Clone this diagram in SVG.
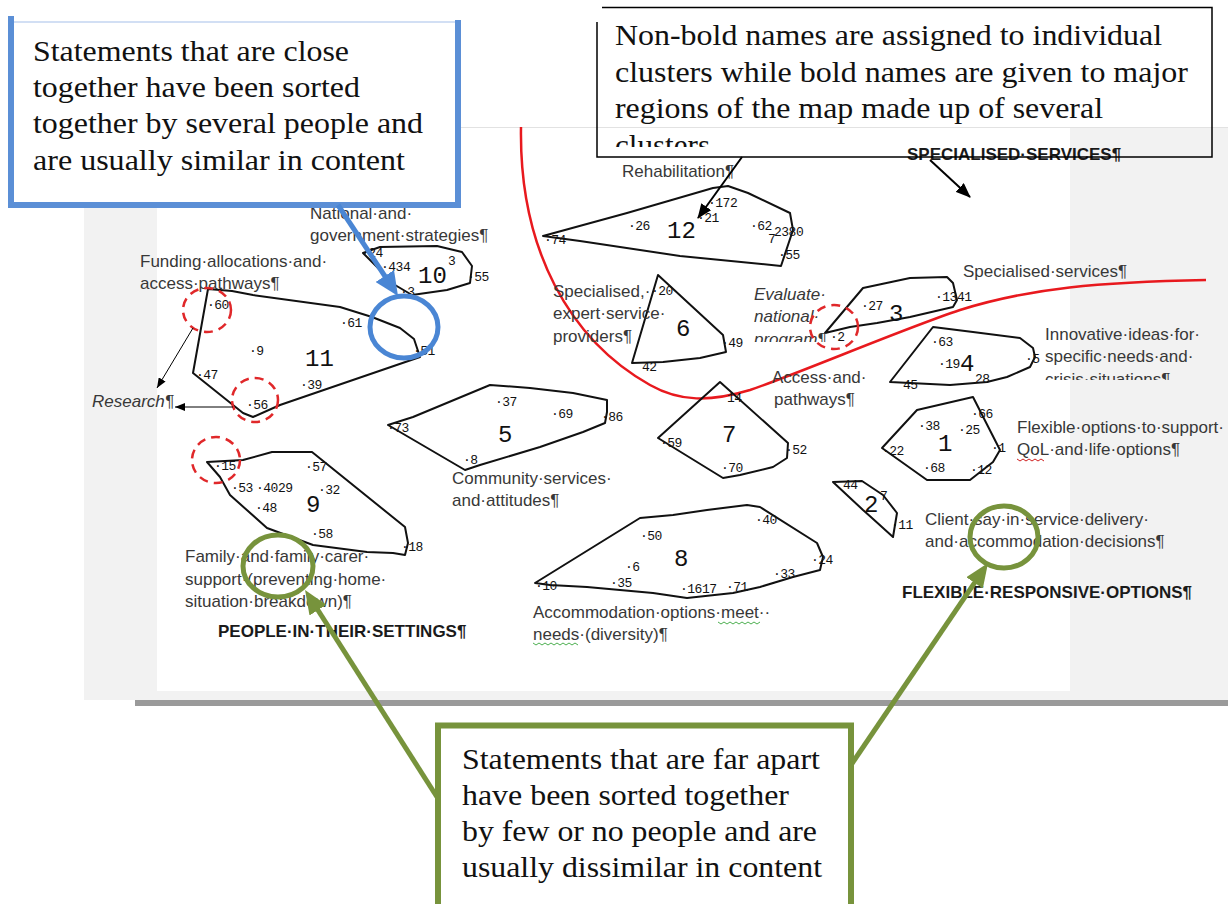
<svg xmlns="http://www.w3.org/2000/svg" width="1228" height="904" viewBox="0 0 1228 904">
<style>
.cl{fill:none;stroke:#111;stroke-width:2;stroke-linejoin:round}
.pt{font-family:"Liberation Mono","DejaVu Sans Mono",monospace;font-size:13px;fill:#111;letter-spacing:-0.5px}
.cn{font-family:"Liberation Mono","DejaVu Sans Mono",monospace;font-size:24px;fill:#111}
.lb{font-family:"Liberation Sans",Arial,sans-serif;font-size:17px;fill:#383838}
.it{font-style:italic}
.bd{font-family:"Liberation Sans",Arial,sans-serif;font-size:17px;font-weight:bold;fill:#1a1a1a}
.ser{font-family:"Liberation Serif","Times New Roman",serif;font-size:30px;fill:#111}
.rc{fill:none;stroke:#e0282a;stroke-width:2.5;stroke-dasharray:9 6}
.gc{fill:none;stroke:#77933c;stroke-width:5}
.ga{stroke:#77933c;stroke-width:5;fill:none}
.ka{stroke:#000;stroke-width:2;fill:none}
.ks{stroke:#000;stroke-width:1;fill:none}
</style>
<defs>
<marker id="ahK" markerUnits="userSpaceOnUse" markerWidth="15" markerHeight="12" refX="14" refY="6" orient="auto"><path d="M0,0 L15,6 L0,12 z" fill="#000"/></marker>
<marker id="ahKs" markerUnits="userSpaceOnUse" markerWidth="10" markerHeight="8" refX="10" refY="4" orient="auto"><path d="M0,0 L10,4 L0,8 z" fill="#000"/></marker>
<marker id="ahB" markerUnits="userSpaceOnUse" markerWidth="24" markerHeight="22" refX="12" refY="11" orient="auto"><path d="M0,0 L24,11 L0,22 z" fill="#4a86d4"/></marker>
<marker id="ahG" markerUnits="userSpaceOnUse" markerWidth="24" markerHeight="20" refX="12" refY="10" orient="auto"><path d="M0,0 L24,10 L0,20 z" fill="#77933c"/></marker>
<clipPath id="clipBlack"><rect x="597" y="7" width="615" height="140"/></clipPath>
<clipPath id="clipEval"><rect x="740" y="280" width="100" height="62"/></clipPath>
<clipPath id="clipInno"><rect x="1035" y="320" width="190" height="60"/></clipPath>
</defs>

<!-- page / map background -->
<g id="background">
<rect x="0" y="0" width="1228" height="904" fill="#fff"/>
<rect x="84" y="127" width="1144" height="573" fill="#f2f2f2"/>
<rect x="157" y="127" width="913" height="564" fill="#fff"/>
<line x1="84" y1="127.5" x2="1228" y2="127.5" stroke="#e2e2e2" stroke-width="1"/>
<rect x="135" y="700" width="1093" height="6" fill="#9a9a9a"/>
</g>

<!-- red region boundary -->
<g id="region-boundary">
<path d="M521,127 C519,250 570,340 650,385 C680,402 710,402 750,390 C800,373 900,330 960,310 C1030,288 1100,282 1206,280" fill="none" stroke="#e8191e" stroke-width="2.5"/>
</g>

<!-- clusters -->
<g id="cluster-11">
<polygon class="cl" points="208,289 232,291 253,295 340,307 372,317 400,328 414,339 420,357 280,405 253,417 243,413 193,373"/>
<text class="pt" x="207" y="309">·60</text>
<text class="pt" x="340" y="327">·61</text>
<text class="pt" x="249" y="355">·9</text>
<text class="cn" x="305" y="366">11</text>
<text class="pt" x="413" y="355">·51</text>
<text class="pt" x="196" y="379">·47</text>
<text class="pt" x="300" y="389">·39</text>
<text class="pt" x="246" y="409">·56</text>
</g>
<g id="cluster-10">
<polygon class="cl" points="363,253 380,247 437,246 462,252 472,266 470,283 447,290 412,295 395,285"/>
<text class="pt" x="361" y="257">·24</text>
<text class="pt" x="381" y="271">·434</text>
<text class="cn" x="418" y="283">10</text>
<text class="pt" x="448" y="265">3</text>
<text class="pt" x="400" y="296">·3</text>
<text class="pt" x="467" y="281">·55</text>
</g>
<g id="cluster-12">
<polygon class="cl" points="543,236 627,213 713,188 728,186 748,193 790,213 793,230 781,266 680,256 580,241"/>
<text class="pt" x="544" y="244">·74</text>
<text class="pt" x="628" y="230">·26</text>
<text class="cn" x="667" y="238">12</text>
<text class="pt" x="697" y="222">·21</text>
<text class="pt" x="708" y="207">·172</text>
<text class="pt" x="750" y="230">·62</text>
<text class="pt" x="768" y="243">7</text>
<text class="pt" x="774" y="236">2380</text>
<text class="pt" x="778" y="259">·55</text>
</g>
<g id="cluster-6">
<polygon class="cl" points="658,275 723,335 726,352 700,358 663,362 632,363"/>
<text class="pt" x="651" y="295">·20</text>
<text class="cn" x="676" y="336">6</text>
<text class="pt" x="721" y="347">·49</text>
<text class="pt" x="642" y="371">42</text>
</g>
<g id="cluster-3">
<polygon class="cl" points="825,333 863,288 910,278 947,277 953,283 957,300 953,307 910,317 877,323 850,327"/>
<text class="pt" x="861" y="310">·27</text>
<text class="cn" x="889" y="321">3</text>
<text class="pt" x="935" y="301">·1341</text>
<text class="pt" x="830" y="341">·2</text>
</g>
<g id="cluster-4">
<polygon class="cl" points="890,382 933,327 973,332 1020,338 1033,348 1035,357 1030,367 1007,377 987,382 950,385"/>
<text class="pt" x="931" y="346">·63</text>
<text class="pt" x="938" y="368">·19</text>
<text class="cn" x="960" y="371">4</text>
<text class="pt" x="975" y="383">28</text>
<text class="pt" x="1025" y="363">·5</text>
<text class="pt" x="903" y="389">45</text>
</g>
<g id="cluster-1">
<polygon class="cl" points="882,448 917,410 973,397 1000,450 993,462 970,480 927,480"/>
<text class="pt" x="971" y="418">·66</text>
<text class="pt" x="918" y="430">·38</text>
<text class="cn" x="938" y="451">1</text>
<text class="pt" x="958" y="434">·25</text>
<text class="pt" x="991" y="452">·1</text>
<text class="pt" x="882" y="455">·22</text>
<text class="pt" x="923" y="472">·68</text>
<text class="pt" x="970" y="474">·12</text>
</g>
<g id="cluster-2">
<polygon class="cl" points="833,482 862,481 883,495 897,513 893,537 872,518 863,510"/>
<text class="pt" x="843" y="489">44</text>
<text class="cn" x="864" y="512">2</text>
<text class="pt" x="880" y="500">7</text>
<text class="pt" x="891" y="529">·11</text>
</g>
<g id="cluster-7">
<polygon class="cl" points="720,382 788,443 787,458 773,467 740,475 723,478 658,438"/>
<text class="pt" x="727" y="402">14</text>
<text class="cn" x="722" y="442">7</text>
<text class="pt" x="660" y="447">·59</text>
<text class="pt" x="785" y="454">·52</text>
<text class="pt" x="721" y="472">·70</text>
</g>
<g id="cluster-5">
<polygon class="cl" points="388,425 413,417 490,385 530,388 573,393 607,400 607,412 605,423 583,432 540,447 480,465 465,470"/>
<text class="pt" x="387" y="432">·73</text>
<text class="pt" x="495" y="406">·37</text>
<text class="pt" x="551" y="418">·69</text>
<text class="pt" x="601" y="421">·86</text>
<text class="cn" x="498" y="442">5</text>
<text class="pt" x="463" y="464">·8</text>
</g>
<g id="cluster-8">
<polygon class="cl" points="535,583 640,518 673,515 707,510 747,505 760,507 817,543 823,557 820,570 793,577 760,587 733,593 687,598 653,593 587,587 550,585"/>
<text class="pt" x="640" y="540">·50</text>
<text class="cn" x="674" y="566">8</text>
<text class="pt" x="625" y="571">·6</text>
<text class="pt" x="610" y="587">·35</text>
<text class="pt" x="680" y="593">·1617</text>
<text class="pt" x="726" y="591">·71</text>
<text class="pt" x="773" y="578">·33</text>
<text class="pt" x="811" y="564">·24</text>
<text class="pt" x="755" y="524">·40</text>
<text class="pt" x="535" y="590">·10</text>
</g>
<g id="cluster-9">
<polygon class="cl" points="207,462 243,460 272,452 312,452 405,527 408,543 405,555 393,553 367,552 313,545 267,528 230,495 220,477"/>
<text class="pt" x="214" y="470">·15</text>
<text class="pt" x="231" y="492">·53</text>
<text class="pt" x="256" y="492">·4029</text>
<text class="pt" x="255" y="512">·48</text>
<text class="cn" x="306" y="512">9</text>
<text class="pt" x="305" y="471">·57</text>
<text class="pt" x="318" y="494">·32</text>
<text class="pt" x="311" y="538">·58</text>
<text class="pt" x="401" y="551">·18</text>
</g>

<!-- cluster names and region names -->
<g id="labels">
<text class="lb" x="622" y="177">Rehabilitation¶</text>
<text class="lb" x="310" y="219">National·and·</text>
<text class="lb" x="310" y="241">government·strategies¶</text>
<text class="lb" x="140" y="267">Funding·allocations·and·</text>
<text class="lb" x="140" y="289">access·pathways¶</text>
<text class="lb it" x="92" y="407">Research¶</text>
<text class="lb" x="553" y="297">Specialised,·</text>
<text class="lb" x="553" y="319">expert·service·</text>
<text class="lb" x="553" y="342">providers¶</text>
<g clip-path="url(#clipEval)">
<text class="lb it" x="754" y="300">Evaluate·</text>
<text class="lb it" x="754" y="322">national·</text>
<text class="lb it" x="754" y="345">program¶</text>
</g>
<text class="lb" x="963" y="277">Specialised·services¶</text>
<g clip-path="url(#clipInno)">
<text class="lb" x="1045" y="340">Innovative·ideas·for·</text>
<text class="lb" x="1045" y="362">specific·needs·and·</text>
<text class="lb" x="1045" y="385">crisis·situations¶</text>
</g>
<text class="lb" x="772" y="383">Access·and·</text>
<text class="lb" x="774" y="405">pathways¶</text>
<text class="lb" x="1017" y="433">Flexible·options·to·support·</text>
<text class="lb" x="1017" y="455">QoL·and·life·options¶</text>
<text class="lb" x="452" y="484">Community·services·</text>
<text class="lb" x="452" y="506">and·attitudes¶</text>
<text class="lb" x="925" y="525">Client·say·in·service·delivery·</text>
<text class="lb" x="925" y="547">and·accommodation·decisions¶</text>
<text class="lb" x="185" y="562">Family·and·family·carer·</text>
<text class="lb" x="185" y="585">support·(preventing·home·</text>
<text class="lb" x="185" y="607">situation·breakdown)¶</text>
<text class="lb" x="533" y="618">Accommodation·options·meet··</text>
<text class="lb" x="533" y="640">needs·(diversity)¶</text>
<text class="bd" x="907" y="160">SPECIALISED·SERVICES¶</text>
<text class="bd" x="218" y="637">PEOPLE·IN·THEIR·SETTINGS¶</text>
<text class="bd" x="902" y="598">FLEXIBLE·RESPONSIVE·OPTIONS¶</text>
<path d="M1017,459 l3,2 l3,-2 l3,2 l3,-2 l3,2 l3,-2 l3,2 l3,-2 l3,2" fill="none" stroke="#d02020" stroke-width="1"/>
<path d="M718,622 l3,2 l3,-2 l3,2 l3,-2 l3,2 l3,-2 l3,2 l3,-2 l3,2 l3,-2 l3,2 l3,-2 l3,2 l3,-2" fill="none" stroke="#4caf50" stroke-width="1"/>
<path d="M533,643 l3,2 l3,-2 l3,2 l3,-2 l3,2 l3,-2 l3,2 l3,-2 l3,2 l3,-2 l3,2 l3,-2 l3,2 l3,-2 l3,2" fill="none" stroke="#4caf50" stroke-width="1"/>
</g>

<!-- highlight circles -->
<g id="highlights">
<ellipse class="rc" cx="207" cy="310" rx="24" ry="22"/>
<ellipse class="rc" cx="255" cy="400" rx="23" ry="22"/>
<ellipse class="rc" cx="216" cy="460" rx="24" ry="23"/>
<ellipse class="rc" cx="834" cy="327" rx="24" ry="22"/>
<ellipse cx="404" cy="327" rx="34" ry="31" fill="none" stroke="#4a86d4" stroke-width="5"/>
<ellipse class="gc" cx="278" cy="566" rx="35" ry="31"/>
<ellipse class="gc" cx="1004" cy="537" rx="34" ry="31"/>
</g>

<!-- callout boxes -->
<g id="callout-close">
<rect x="11" y="19" width="447" height="186" fill="#fff"/>
<line x1="14" y1="22" x2="455" y2="22" stroke="#c3d5f0" stroke-width="1.5"/>
<path d="M11,16 V205 H458 V20" fill="none" stroke="#5b8fd6" stroke-width="6"/>
<text class="ser" x="33" y="61" textLength="316" lengthAdjust="spacingAndGlyphs">Statements that are close</text>
<text class="ser" x="33" y="97" textLength="327" lengthAdjust="spacingAndGlyphs">together have been sorted</text>
<text class="ser" x="33" y="133" textLength="390" lengthAdjust="spacingAndGlyphs">together by several people and</text>
<text class="ser" x="33" y="170" textLength="372" lengthAdjust="spacingAndGlyphs">are usually similar in content</text>
</g>
<g id="callout-names">
<path d="M602,7.5 H1212 V157 H597 V22" fill="none" stroke="#000" stroke-width="1.5"/>
<g clip-path="url(#clipBlack)">
<text class="ser" x="615" y="45" textLength="547" lengthAdjust="spacingAndGlyphs">Non-bold names are assigned to individual</text>
<text class="ser" x="615" y="82" textLength="573" lengthAdjust="spacingAndGlyphs">clusters while bold names are given to major</text>
<text class="ser" x="615" y="118" textLength="488" lengthAdjust="spacingAndGlyphs">regions of the map made up of several</text>
<text class="ser" x="615" y="155" textLength="95" lengthAdjust="spacingAndGlyphs">clusters</text>
</g>
</g>
<g id="callout-far">
<path d="M438,904 V725.5 H851 V904" fill="#fff" stroke="#77933c" stroke-width="6"/>
<text class="ser" x="462" y="769" textLength="358" lengthAdjust="spacingAndGlyphs">Statements that are far apart</text>
<text class="ser" x="462" y="805" textLength="327" lengthAdjust="spacingAndGlyphs">have been sorted together</text>
<text class="ser" x="462" y="841" textLength="355" lengthAdjust="spacingAndGlyphs">by few or no people and are</text>
<text class="ser" x="462" y="877" textLength="360" lengthAdjust="spacingAndGlyphs">usually dissimilar in content</text>
</g>

<!-- connectors -->
<g id="connectors">
<line class="ka" x1="742" y1="157" x2="698" y2="218" marker-end="url(#ahK)"/>
<line class="ka" x1="930" y1="160" x2="970" y2="197" marker-end="url(#ahK)"/>
<line class="ks" x1="193" y1="328" x2="157" y2="388" marker-end="url(#ahKs)"/>
<line class="ks" x1="233" y1="407" x2="175" y2="407" marker-end="url(#ahKs)"/>
<line x1="338" y1="205" x2="391.4" y2="286" stroke="#4a86d4" stroke-width="5" marker-end="url(#ahB)"/>
<line class="ga" x1="437" y1="797" x2="311.5" y2="600" marker-end="url(#ahG)"/>
<line class="ga" x1="851" y1="765" x2="981.3" y2="572.9" marker-end="url(#ahG)"/>
</g>
</svg>
